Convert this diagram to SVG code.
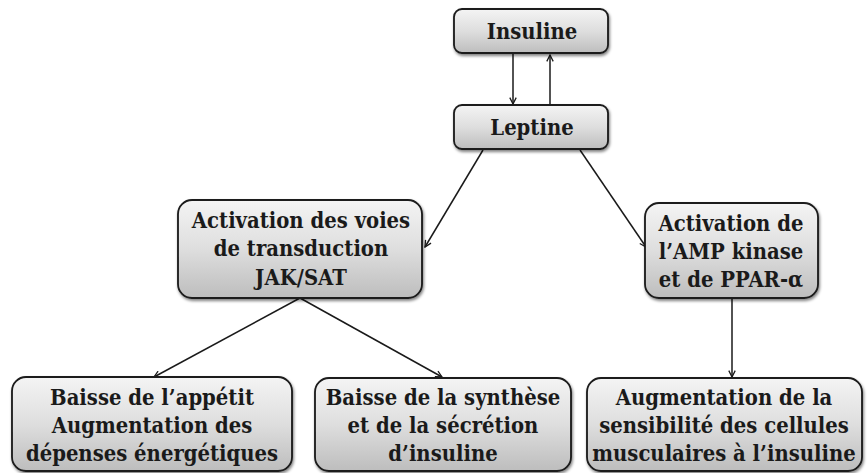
<svg xmlns="http://www.w3.org/2000/svg" width="868" height="473" viewBox="0 0 868 473">
  <defs>
    <linearGradient id="boxFill" x1="0" y1="0" x2="0" y2="1">
      <stop offset="0" stop-color="#f4f4f4"/>
      <stop offset="0.5" stop-color="#dedede"/>
      <stop offset="1" stop-color="#bdbdbd"/>
    </linearGradient>
    <filter id="shadow" x="-10%" y="-10%" width="130%" height="140%">
      <feGaussianBlur in="SourceAlpha" stdDeviation="1.5"/>
      <feOffset dx="1" dy="2" result="b"/>
      <feComponentTransfer><feFuncA type="linear" slope="0.5"/></feComponentTransfer>
      <feMerge><feMergeNode/><feMergeNode in="SourceGraphic"/></feMerge>
    </filter>
    <marker id="arrow" viewBox="0 0 10 10" refX="9" refY="5" markerWidth="8" markerHeight="8" orient="auto" markerUnits="userSpaceOnUse">
      <path d="M1,1 L9,5 L1,9" fill="none" stroke="#1a1a1a" stroke-width="1.6"/>
    </marker>
  </defs>
  <style>
    .box { fill: url(#boxFill); stroke: #1a1a1a; stroke-width: 1.8; filter: url(#shadow); }
    .lbl { font-family: "DejaVu Serif", serif; font-weight: bold; font-size: 23px; fill: #1a1a1a; text-anchor: middle; }
    .conn { stroke: #1a1a1a; stroke-width: 1.5; fill: none; marker-end: url(#arrow); }
  </style>

  <rect width="868" height="473" fill="#ffffff"/>

  <g id="connectors">
    <line class="conn" x1="513" y1="53" x2="513" y2="104" stroke-width="2"/>
    <line class="conn" x1="550" y1="104" x2="550" y2="55"/>
    <line class="conn" x1="483" y1="150" x2="425" y2="247"/>
    <line class="conn" x1="580" y1="150" x2="646" y2="247"/>
    <line class="conn" x1="300" y1="298" x2="154" y2="377"/>
    <line class="conn" x1="300" y1="298" x2="442" y2="377"/>
    <line class="conn" x1="732" y1="298" x2="732" y2="377"/>
  </g>

  <!-- labels are set in a condensed serif: each text block is narrowed horizontally about its centre -->
  <g id="insuline">
    <rect class="box" x="454" y="9" width="154" height="44" rx="8"/>
    <g transform="translate(532 0) scale(0.855 1)">
      <text class="lbl" x="0" y="39">Insuline</text>
    </g>
  </g>

  <g id="leptine">
    <rect class="box" x="454" y="105" width="154" height="44" rx="8"/>
    <g transform="translate(532 0) scale(0.855 1)">
      <text class="lbl" x="0" y="135">Leptine</text>
    </g>
  </g>

  <g id="jak-sat">
    <rect class="box" x="178" y="200" width="244" height="98" rx="14"/>
    <g transform="translate(301 0) scale(0.855 1)">
      <text class="lbl" x="0" y="228">Activation des voies</text>
      <text class="lbl" x="0" y="256">de transduction</text>
      <text class="lbl" x="0" y="285">JAK/SAT</text>
    </g>
  </g>

  <g id="ampk">
    <rect class="box" x="645" y="203" width="173" height="95" rx="14"/>
    <g transform="translate(731 0) scale(0.855 1)">
      <text class="lbl" x="0" y="231">Activation de</text>
      <text class="lbl" x="0" y="259">l’AMP kinase</text>
      <text class="lbl" x="0" y="287">et de PPAR-α</text>
    </g>
  </g>

  <g id="appetit">
    <rect class="box" x="12" y="377" width="280" height="94" rx="14"/>
    <g transform="translate(152 0) scale(0.855 1)">
      <text class="lbl" x="0" y="405">Baisse de l’appétit</text>
      <text class="lbl" x="0" y="433">Augmentation des</text>
      <text class="lbl" x="0" y="461">dépenses énergétiques</text>
    </g>
  </g>

  <g id="secretion">
    <rect class="box" x="315" y="378" width="256" height="93" rx="14"/>
    <g transform="translate(443 0) scale(0.855 1)">
      <text class="lbl" x="0" y="405">Baisse de la synthèse</text>
      <text class="lbl" x="0" y="433">et de la sécrétion</text>
      <text class="lbl" x="0" y="461">d’insuline</text>
    </g>
  </g>

  <g id="sensibilite">
    <rect class="box" x="587" y="378" width="275" height="93" rx="14"/>
    <g transform="translate(724 0) scale(0.855 1)">
      <text class="lbl" x="0" y="405">Augmentation de la</text>
      <text class="lbl" x="0" y="433">sensibilité des cellules</text>
      <text class="lbl" x="0" y="461">musculaires à l’insuline</text>
    </g>
  </g>
</svg>
